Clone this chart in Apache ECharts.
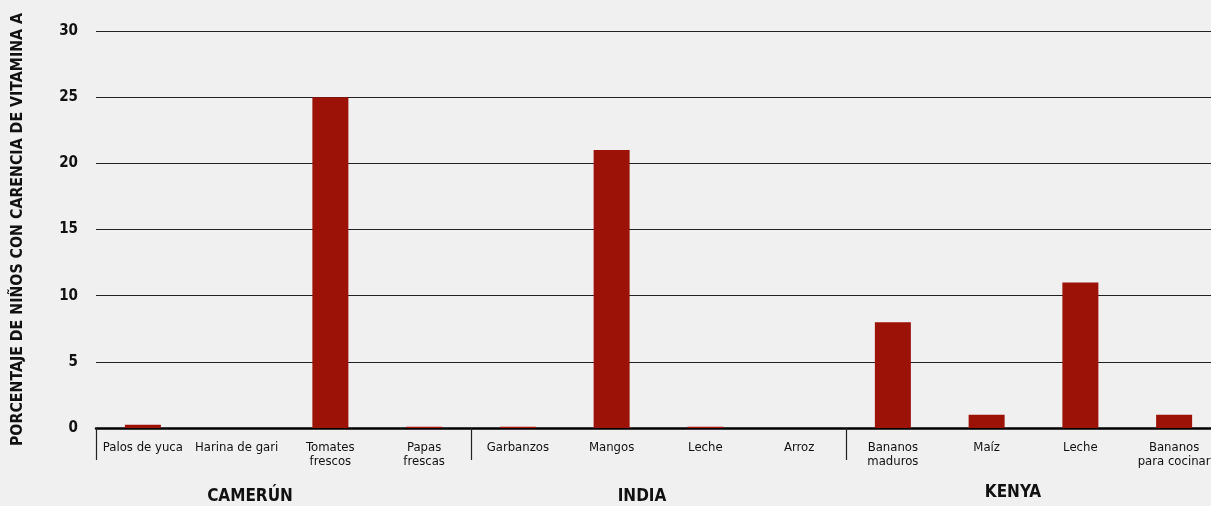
<!DOCTYPE html>
<html>
<head>
<meta charset="utf-8">
<script src="https://cdn.jsdelivr.net/npm/echarts@6/dist/echarts.min.js"></script>
<style>
html,body{margin:0;padding:0;background:#f0f0f0;}
#chart{width:1211px;height:506px;}
</style>
</head>
<body>
<div id="chart"></div>
<script>
const categories = ['Palos de yuca','Harina de gari','Tomates\nfrescos','Papas\nfrescas','Garbanzos','Mangos','Leche','Arroz','Bananos\nmaduros','Maíz','Leche','Bananos\npara cocinar'];
const values = [0.25, 0, 25, 0.1, 0.1, 21, 0.1, 0, 8, 1, 11, 1];
const groups = ['CAMERÚN','INDIA','KENYA'];
const yTicks = [0, 5, 10, 15, 20, 25, 30];
const yTitle = 'PORCENTAJE DE NIÑOS CON CARENCIA DE VITAMINA A';

const FONT = '"DejaVu Sans Condensed","Liberation Sans Narrow",sans-serif';
const chart = echarts.init(document.getElementById('chart'), null, {renderer:'canvas'});
const groupPos = [[250,497],[642,497],[1013,493]];
chart.setOption({
  backgroundColor:'#f0f0f0',
  animation:false,
  grid:{left:96,right:-10,top:31,bottom:78,containLabel:false,outerBoundsMode:'none'},
  xAxis:{
    type:'category',
    data:categories,
    axisLine:{lineStyle:{color:'#000',width:2.5}},
    axisTick:{show:true,length:32,interval:function(i){return i%4===0;},lineStyle:{color:'#222',width:1.2}},
    axisLabel:{interval:0,fontFamily:FONT,fontSize:13,lineHeight:14,color:'#111',margin:13}
  },
  yAxis:{
    type:'value',min:yTicks[0],max:yTicks[yTicks.length-1],interval:5,
    name:yTitle,nameLocation:'middle',nameRotate:90,nameGap:70,
    nameTextStyle:{fontFamily:FONT,fontWeight:'bold',fontSize:15.8,color:'#111'},
    axisLine:{show:false},axisTick:{show:false},
    axisLabel:{fontFamily:FONT,fontWeight:'bold',fontSize:15,color:'#111',margin:18},
    splitLine:{lineStyle:{color:'#222',width:1}}
  },
  series:[{type:'bar',data:values,barWidth:36,itemStyle:{color:'#9c1207'}}],
  graphic: groups.map((g,i)=>({
    type:'text',x:groupPos[i][0],y:groupPos[i][1],
    style:{text:g,fontFamily:FONT,fontWeight:'bold',fontSize:17,fill:'#111',textAlign:'center',textVerticalAlign:'middle'}
  }))
});
</script>
</body>
</html>
